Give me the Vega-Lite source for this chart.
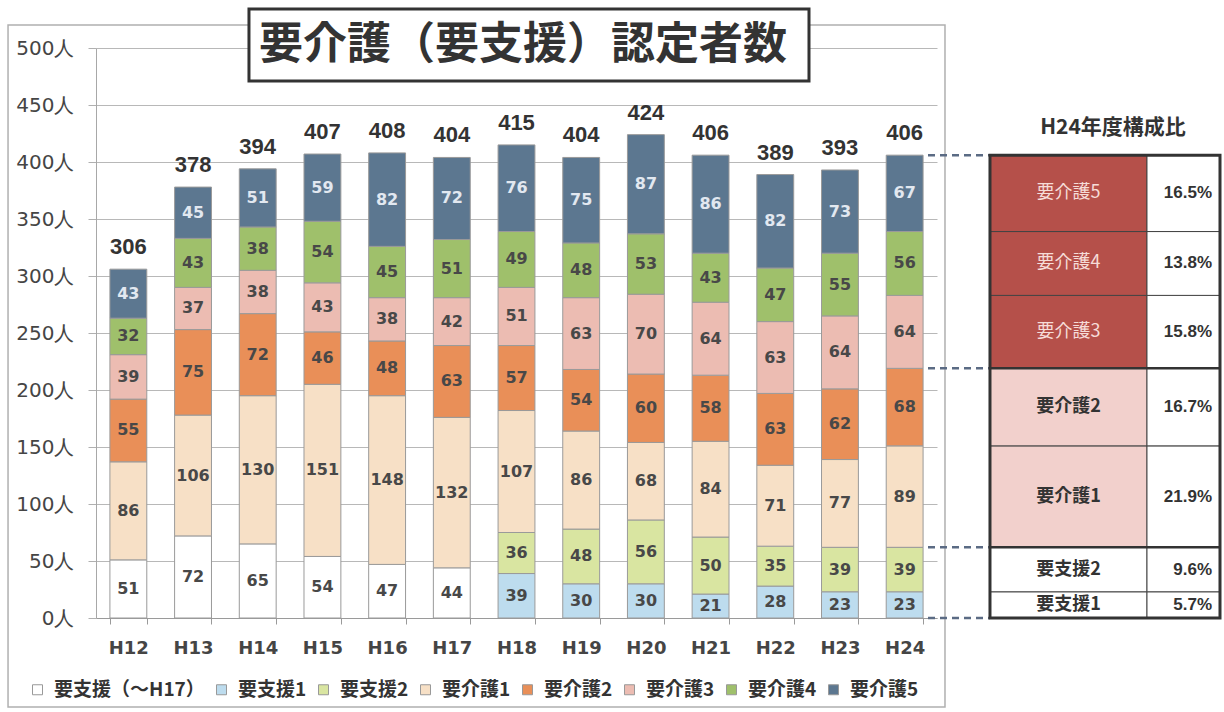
{
  "$schema": "https://vega.github.io/schema/vega-lite/v6.json",
  "width": 841,
  "height": 570,
  "autosize": {"type": "none"},
  "padding": {"left": 96, "top": 48, "right": 287, "bottom": 94},
  "background": "white",
  "config": {"view": {"stroke": null}, "font": "Noto Sans CJK JP"},
  "datasets": {
    "counts": [
      {"年度": "H12", "区分": "要支援（～H17）", "人数": 51},
      {"年度": "H12", "区分": "要介護1", "人数": 86},
      {"年度": "H12", "区分": "要介護2", "人数": 55},
      {"年度": "H12", "区分": "要介護3", "人数": 39},
      {"年度": "H12", "区分": "要介護4", "人数": 32},
      {"年度": "H12", "区分": "要介護5", "人数": 43},
      {"年度": "H13", "区分": "要支援（～H17）", "人数": 72},
      {"年度": "H13", "区分": "要介護1", "人数": 106},
      {"年度": "H13", "区分": "要介護2", "人数": 75},
      {"年度": "H13", "区分": "要介護3", "人数": 37},
      {"年度": "H13", "区分": "要介護4", "人数": 43},
      {"年度": "H13", "区分": "要介護5", "人数": 45},
      {"年度": "H14", "区分": "要支援（～H17）", "人数": 65},
      {"年度": "H14", "区分": "要介護1", "人数": 130},
      {"年度": "H14", "区分": "要介護2", "人数": 72},
      {"年度": "H14", "区分": "要介護3", "人数": 38},
      {"年度": "H14", "区分": "要介護4", "人数": 38},
      {"年度": "H14", "区分": "要介護5", "人数": 51},
      {"年度": "H15", "区分": "要支援（～H17）", "人数": 54},
      {"年度": "H15", "区分": "要介護1", "人数": 151},
      {"年度": "H15", "区分": "要介護2", "人数": 46},
      {"年度": "H15", "区分": "要介護3", "人数": 43},
      {"年度": "H15", "区分": "要介護4", "人数": 54},
      {"年度": "H15", "区分": "要介護5", "人数": 59},
      {"年度": "H16", "区分": "要支援（～H17）", "人数": 47},
      {"年度": "H16", "区分": "要介護1", "人数": 148},
      {"年度": "H16", "区分": "要介護2", "人数": 48},
      {"年度": "H16", "区分": "要介護3", "人数": 38},
      {"年度": "H16", "区分": "要介護4", "人数": 45},
      {"年度": "H16", "区分": "要介護5", "人数": 82},
      {"年度": "H17", "区分": "要支援（～H17）", "人数": 44},
      {"年度": "H17", "区分": "要介護1", "人数": 132},
      {"年度": "H17", "区分": "要介護2", "人数": 63},
      {"年度": "H17", "区分": "要介護3", "人数": 42},
      {"年度": "H17", "区分": "要介護4", "人数": 51},
      {"年度": "H17", "区分": "要介護5", "人数": 72},
      {"年度": "H18", "区分": "要支援1", "人数": 39},
      {"年度": "H18", "区分": "要支援2", "人数": 36},
      {"年度": "H18", "区分": "要介護1", "人数": 107},
      {"年度": "H18", "区分": "要介護2", "人数": 57},
      {"年度": "H18", "区分": "要介護3", "人数": 51},
      {"年度": "H18", "区分": "要介護4", "人数": 49},
      {"年度": "H18", "区分": "要介護5", "人数": 76},
      {"年度": "H19", "区分": "要支援1", "人数": 30},
      {"年度": "H19", "区分": "要支援2", "人数": 48},
      {"年度": "H19", "区分": "要介護1", "人数": 86},
      {"年度": "H19", "区分": "要介護2", "人数": 54},
      {"年度": "H19", "区分": "要介護3", "人数": 63},
      {"年度": "H19", "区分": "要介護4", "人数": 48},
      {"年度": "H19", "区分": "要介護5", "人数": 75},
      {"年度": "H20", "区分": "要支援1", "人数": 30},
      {"年度": "H20", "区分": "要支援2", "人数": 56},
      {"年度": "H20", "区分": "要介護1", "人数": 68},
      {"年度": "H20", "区分": "要介護2", "人数": 60},
      {"年度": "H20", "区分": "要介護3", "人数": 70},
      {"年度": "H20", "区分": "要介護4", "人数": 53},
      {"年度": "H20", "区分": "要介護5", "人数": 87},
      {"年度": "H21", "区分": "要支援1", "人数": 21},
      {"年度": "H21", "区分": "要支援2", "人数": 50},
      {"年度": "H21", "区分": "要介護1", "人数": 84},
      {"年度": "H21", "区分": "要介護2", "人数": 58},
      {"年度": "H21", "区分": "要介護3", "人数": 64},
      {"年度": "H21", "区分": "要介護4", "人数": 43},
      {"年度": "H21", "区分": "要介護5", "人数": 86},
      {"年度": "H22", "区分": "要支援1", "人数": 28},
      {"年度": "H22", "区分": "要支援2", "人数": 35},
      {"年度": "H22", "区分": "要介護1", "人数": 71},
      {"年度": "H22", "区分": "要介護2", "人数": 63},
      {"年度": "H22", "区分": "要介護3", "人数": 63},
      {"年度": "H22", "区分": "要介護4", "人数": 47},
      {"年度": "H22", "区分": "要介護5", "人数": 82},
      {"年度": "H23", "区分": "要支援1", "人数": 23},
      {"年度": "H23", "区分": "要支援2", "人数": 39},
      {"年度": "H23", "区分": "要介護1", "人数": 77},
      {"年度": "H23", "区分": "要介護2", "人数": 62},
      {"年度": "H23", "区分": "要介護3", "人数": 64},
      {"年度": "H23", "区分": "要介護4", "人数": 55},
      {"年度": "H23", "区分": "要介護5", "人数": 73},
      {"年度": "H24", "区分": "要支援1", "人数": 23},
      {"年度": "H24", "区分": "要支援2", "人数": 39},
      {"年度": "H24", "区分": "要介護1", "人数": 89},
      {"年度": "H24", "区分": "要介護2", "人数": 68},
      {"年度": "H24", "区分": "要介護3", "人数": 64},
      {"年度": "H24", "区分": "要介護4", "人数": 56},
      {"年度": "H24", "区分": "要介護5", "人数": 67}
    ],
    "kubun": [
      {"区分": "要支援（～H17）", "順": 0},
      {"区分": "要支援1", "順": 1},
      {"区分": "要支援2", "順": 2},
      {"区分": "要介護1", "順": 3},
      {"区分": "要介護2", "順": 4},
      {"区分": "要介護3", "順": 5},
      {"区分": "要介護4", "順": 6},
      {"区分": "要介護5", "順": 7}
    ],
    "ratio": [
      {"区分": "要介護5", "割合": 0.165},
      {"区分": "要介護4", "割合": 0.138},
      {"区分": "要介護3", "割合": 0.158},
      {"区分": "要介護2", "割合": 0.167},
      {"区分": "要介護1", "割合": 0.219},
      {"区分": "要支援2", "割合": 0.096},
      {"区分": "要支援1", "割合": 0.057}
    ],
    "one": [{}]
  },
  "resolve": {"scale": {"x": "independent"}, "axis": {"y": "independent"}},
  "layer": [
    {
      "data": {"name": "counts"},
      "transform": [
        {"lookup": "区分", "from": {"data": {"name": "kubun"}, "key": "区分", "fields": ["順"]}}
      ],
      "resolve": {"axis": {"y": "independent"}},
      "layer": [
        {
          "mark": {"type": "bar", "stroke": "#9a9a9a", "strokeWidth": 1},
          "encoding": {
            "x": {
              "field": "年度", "type": "nominal",
              "scale": {"paddingInner": 0.43, "paddingOuter": 0.215},
              "axis": {
                "title": null, "labelAngle": 0, "labelFont": "DejaVu Sans", "labelFontWeight": "bold",
                "labelFontSize": 18, "labelColor": "#454545", "tickBand": "extent", "tickSize": 6,
                "tickColor": "#9a9a9a", "domainColor": "#9a9a9a", "labelPadding": 15, "grid": false
              }
            },
            "y": {
              "field": "人数", "type": "quantitative", "stack": "zero",
              "scale": {"domain": [0, 500], "nice": false},
              "axis": {
                "title": null, "orient": "left", "values": [0, 50, 100, 150, 200, 250, 300, 350, 400, 450, 500],
                "labelExpr": "datum.value + '人'", "labelFont": "DejaVu Sans", "labelFontSize": 20,
                "labelColor": "#454545", "tickSize": 8, "tickColor": "#b0b0b0", "domainColor": "#a8a8a8",
                "grid": true, "gridColor": "#b8b8b8", "labelPadding": 14
              }
            },
            "color": {
              "field": "区分", "type": "nominal",
              "scale": {
                "domain": ["要支援（～H17）", "要支援1", "要支援2", "要介護1", "要介護2", "要介護3", "要介護4", "要介護5"],
                "range": ["#ffffff", "#bddcee", "#d9e5a1", "#f7e0c6", "#e98f58", "#ecbcb2", "#9fc06b", "#5c7790"]
              },
              "legend": {
                "orient": "none", "legendX": -68, "legendY": 632, "direction": "horizontal", "columns": 8,
                "title": null, "symbolType": "square", "symbolSize": 100, "symbolStrokeColor": "#999999",
                "symbolStrokeWidth": 1, "labelFont": "Noto Sans CJK JP", "labelFontSize": 19,
                "labelFontWeight": "bold", "labelColor": "#333333", "labelOffset": 7, "columnPadding": 7,
                "symbolOpacity": 1
              }
            },
            "order": {"field": "順", "type": "quantitative"}
          }
        },
        {
          "transform": [
            {"stack": "人数", "groupby": ["年度"], "sort": [{"field": "順", "order": "ascending"}], "as": ["y0", "y1"]},
            {"fold": ["y0", "y1"], "as": ["端", "位置"]},
            {"aggregate": [{"op": "mean", "field": "位置", "as": "中央"}], "groupby": ["年度", "区分", "人数"]}
          ],
          "mark": {"type": "text", "font": "DejaVu Sans", "fontWeight": "bold", "fontSize": 16, "baseline": "middle"},
          "encoding": {
            "x": {"field": "年度", "type": "nominal"},
            "y": {"field": "中央", "type": "quantitative", "scale": {"domain": [0, 500], "nice": false}, "axis": null},
            "text": {"field": "人数", "type": "quantitative"},
            "color": {"condition": {"test": "datum['区分'] === '要介護5'", "value": "#e2e8f0"}, "value": "#484848"}
          }
        },
        {
          "mark": {"type": "text", "font": "Liberation Sans", "fontWeight": "bold", "fontSize": 22, "baseline": "alphabetic", "dy": -15, "color": "#333333"},
          "encoding": {
            "x": {"field": "年度", "type": "nominal"},
            "y": {"aggregate": "sum", "field": "人数", "type": "quantitative", "scale": {"domain": [0, 500], "nice": false}, "axis": null},
            "text": {"aggregate": "sum", "field": "人数", "type": "quantitative"}
          }
        }
      ]
    },
    {
      "layer": [
        {
          "data": {"name": "one"},
          "mark": {"type": "rect", "fillOpacity": 0, "stroke": "#b0b0b0", "strokeWidth": 1.5},
          "encoding": {
            "x": {"datum": -0.1046, "type": "quantitative", "scale": {"domain": [0, 1], "nice": false, "zero": false}, "axis": null},
            "x2": {"datum": 1.0095},
            "y": {"datum": 520.2, "type": "quantitative", "scale": {"domain": [0, 500], "nice": false}, "axis": null},
            "y2": {"datum": -78.1}
          }
        },
        {
          "data": {"name": "one"},
          "mark": {"type": "rect", "fill": "#ffffff", "stroke": "#333333", "strokeWidth": 3},
          "encoding": {
            "x": {"datum": 0.1819, "type": "quantitative", "scale": {"domain": [0, 1], "nice": false, "zero": false}, "axis": null},
            "x2": {"datum": 0.8478},
            "y": {"datum": 534.2, "type": "quantitative", "scale": {"domain": [0, 500], "nice": false}, "axis": null},
            "y2": {"datum": 471.1}
          }
        },
        {
          "data": {"name": "one"},
          "mark": {"type": "text", "text": "要介護（要支援）認定者数", "font": "Noto Sans CJK JP", "fontWeight": "bold", "fontSize": 44, "color": "#333333", "align": "center", "baseline": "middle"},
          "encoding": {
            "x": {"datum": 0.5077, "type": "quantitative", "scale": {"domain": [0, 1], "nice": false, "zero": false}, "axis": null},
            "y": {"datum": 502, "type": "quantitative", "scale": {"domain": [0, 500], "nice": false}, "axis": null}
          }
        },
        {
          "data": {"name": "one"},
          "mark": {"type": "text", "text": "H24年度構成比", "font": "Noto Sans CJK JP", "fontWeight": "bold", "fontSize": 21, "color": "#333333", "align": "center", "baseline": "middle"},
          "encoding": {
            "x": {"datum": 1.2093, "type": "quantitative", "scale": {"domain": [0, 1], "nice": false, "zero": false}, "axis": null},
            "y": {"datum": 429.8, "type": "quantitative", "scale": {"domain": [0, 500], "nice": false}, "axis": null}
          }
        },
        {
          "data": {"name": "counts"},
          "transform": [
            {"filter": "datum['年度'] === 'H24'"},
            {"lookup": "区分", "from": {"data": {"name": "kubun"}, "key": "区分", "fields": ["順"]}},
            {"lookup": "区分", "from": {"data": {"name": "ratio"}, "key": "区分", "fields": ["割合"]}},
            {"stack": "人数", "groupby": ["年度"], "sort": [{"field": "順", "order": "ascending"}], "as": ["t0", "t1"]}
          ],
          "layer": [
            {
              "mark": {"type": "rule", "stroke": "#5b6b84", "strokeWidth": 2.5, "strokeDash": [7, 5]},
              "transform": [{"filter": "indexof(['要介護5', '要介護2', '要支援2'], datum['区分']) >= 0"}],
              "encoding": {
                "x": {"datum": 0.9893, "type": "quantitative", "scale": {"domain": [0, 1], "nice": false, "zero": false}, "axis": null},
                "x2": {"datum": 1.063},
                "y": {"field": "t1", "type": "quantitative", "scale": {"domain": [0, 500], "nice": false}, "axis": null}
              }
            },
            {
              "mark": {"type": "rule", "stroke": "#5b6b84", "strokeWidth": 2.5, "strokeDash": [7, 5]},
              "transform": [{"filter": "datum['区分'] === '要支援1'"}],
              "encoding": {
                "x": {"datum": 0.9893, "type": "quantitative", "scale": {"domain": [0, 1], "nice": false, "zero": false}, "axis": null},
                "x2": {"datum": 1.063},
                "y": {"field": "t0", "type": "quantitative", "scale": {"domain": [0, 500], "nice": false}, "axis": null}
              }
            },
            {
              "mark": {"type": "rect", "stroke": "#444444", "strokeWidth": 1},
              "encoding": {
                "x": {"datum": 1.063, "type": "quantitative", "scale": {"domain": [0, 1], "nice": false, "zero": false}, "axis": null},
                "x2": {"datum": 1.2497},
                "y": {"field": "t0", "type": "quantitative", "scale": {"domain": [0, 500], "nice": false}, "axis": null},
                "y2": {"field": "t1"},
                "fill": {
                  "field": "区分", "type": "nominal", "legend": null,
                  "scale": {
                    "domain": ["要介護5", "要介護4", "要介護3", "要介護2", "要介護1", "要支援2", "要支援1"],
                    "range": ["#b5504a", "#b5504a", "#b5504a", "#f2d0cc", "#f2d0cc", "#ffffff", "#ffffff"]
                  }
                }
              }
            },
            {
              "mark": {"type": "rect", "fill": "#ffffff", "stroke": "#444444", "strokeWidth": 1},
              "encoding": {
                "x": {"datum": 1.2497, "type": "quantitative", "scale": {"domain": [0, 1], "nice": false, "zero": false}, "axis": null},
                "x2": {"datum": 1.3365},
                "y": {"field": "t0", "type": "quantitative", "scale": {"domain": [0, 500], "nice": false}, "axis": null},
                "y2": {"field": "t1"}
              }
            },
            {
              "mark": {"type": "rule", "stroke": "#333333", "strokeWidth": 2.5},
              "transform": [{"filter": "datum['区分'] === '要介護2' || datum['区分'] === '要支援2'"}],
              "encoding": {
                "x": {"datum": 1.063, "type": "quantitative", "scale": {"domain": [0, 1], "nice": false, "zero": false}, "axis": null},
                "x2": {"datum": 1.3365},
                "y": {"field": "t1", "type": "quantitative", "scale": {"domain": [0, 500], "nice": false}, "axis": null}
              }
            },
            {
              "mark": {"type": "rect", "fillOpacity": 0, "stroke": "#333333", "strokeWidth": 3},
              "transform": [{"filter": "datum['区分'] === '要介護5'"}],
              "encoding": {
                "x": {"datum": 1.063, "type": "quantitative", "scale": {"domain": [0, 1], "nice": false, "zero": false}, "axis": null},
                "x2": {"datum": 1.3365},
                "y": {"field": "t1", "type": "quantitative", "scale": {"domain": [0, 500], "nice": false}, "axis": null},
                "y2": {"datum": 0}
              }
            },
            {
              "transform": [
                {"fold": ["t0", "t1"], "as": ["端", "位置"]},
                {"aggregate": [{"op": "mean", "field": "位置", "as": "中央"}], "groupby": ["区分", "順", "割合"]}
              ],
              "layer": [
                {
                  "transform": [{"filter": "datum['順'] >= 5"}],
                  "mark": {"type": "text", "font": "Noto Sans CJK JP", "fontSize": 18, "color": "#f6dcd8", "align": "center", "baseline": "middle"},
                  "encoding": {
                    "x": {"datum": 1.1564, "type": "quantitative", "scale": {"domain": [0, 1], "nice": false, "zero": false}, "axis": null},
                    "y": {"field": "中央", "type": "quantitative", "scale": {"domain": [0, 500], "nice": false}, "axis": null},
                    "text": {"field": "区分", "type": "nominal"}
                  }
                },
                {
                  "transform": [{"filter": "datum['順'] < 5"}],
                  "mark": {"type": "text", "font": "Noto Sans CJK JP", "fontWeight": "bold", "fontSize": 18, "color": "#333333", "align": "center", "baseline": "middle"},
                  "encoding": {
                    "x": {"datum": 1.1564, "type": "quantitative", "scale": {"domain": [0, 1], "nice": false, "zero": false}, "axis": null},
                    "y": {"field": "中央", "type": "quantitative", "scale": {"domain": [0, 500], "nice": false}, "axis": null},
                    "text": {"field": "区分", "type": "nominal"}
                  }
                },
                {
                  "mark": {"type": "text", "font": "Liberation Sans", "fontWeight": "bold", "fontSize": 17, "color": "#333333", "align": "right", "baseline": "middle"},
                  "encoding": {
                    "x": {"datum": 1.327, "type": "quantitative", "scale": {"domain": [0, 1], "nice": false, "zero": false}, "axis": null},
                    "y": {"field": "中央", "type": "quantitative", "scale": {"domain": [0, 500], "nice": false}, "axis": null},
                    "text": {"field": "割合", "type": "quantitative", "format": ".1%"}
                  }
                }
              ]
            }
          ]
        }
      ]
    }
  ]
}
